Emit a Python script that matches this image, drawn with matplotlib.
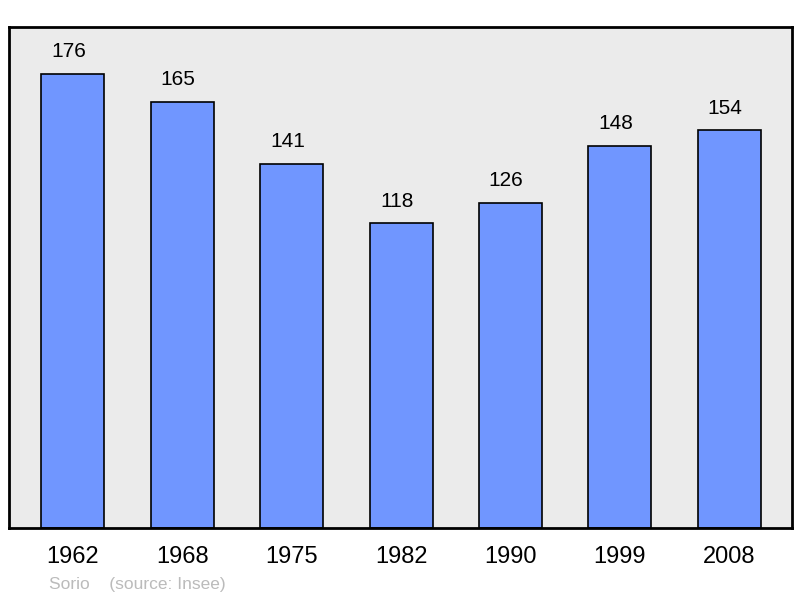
import matplotlib.pyplot as plt
import numpy as np

years = ['1962', '1968', '1975', '1982', '1990', '1999', '2008']
population = [176, 165, 141, 118, 126, 148, 154]

plt.rcParams['font.family'] = ['Liberation Sans', 'DejaVu Sans']

fig = plt.figure(figsize=(8, 5.98), dpi=100)
ax = fig.add_axes([0.01125, 0.117, 0.97875, 0.8378])
ax.set_facecolor('#ebebeb')

x = np.arange(len(years))
ax.bar(x, population, width=0.576, color='#7096ff', edgecolor='black', linewidth=1.2, zorder=2)

# value labels sit a little left of the bar centre in the original
for xi, v in zip(x, population):
    ax.annotate(str(v), (xi, v), xytext=(-3, 9), textcoords='offset points',
                ha='center', va='bottom', fontsize=15)

ax.set_xlim(-0.585, 6.575)
ax.set_ylim(0, 194)
ax.set_yticks([])
ax.set_xticks(x)
ax.set_xticklabels(years, fontsize=17)
ax.tick_params(axis='x', length=0, pad=13)
for s in ax.spines.values():
    s.set_linewidth(2)

fig.text(49 / 800, 1 - 584 / 598, 'Sorio    (source: Insee)', fontsize=12.5,
         color='#bbbbbb', ha='left', va='center')

fig.savefig('out.png', dpi=100)
